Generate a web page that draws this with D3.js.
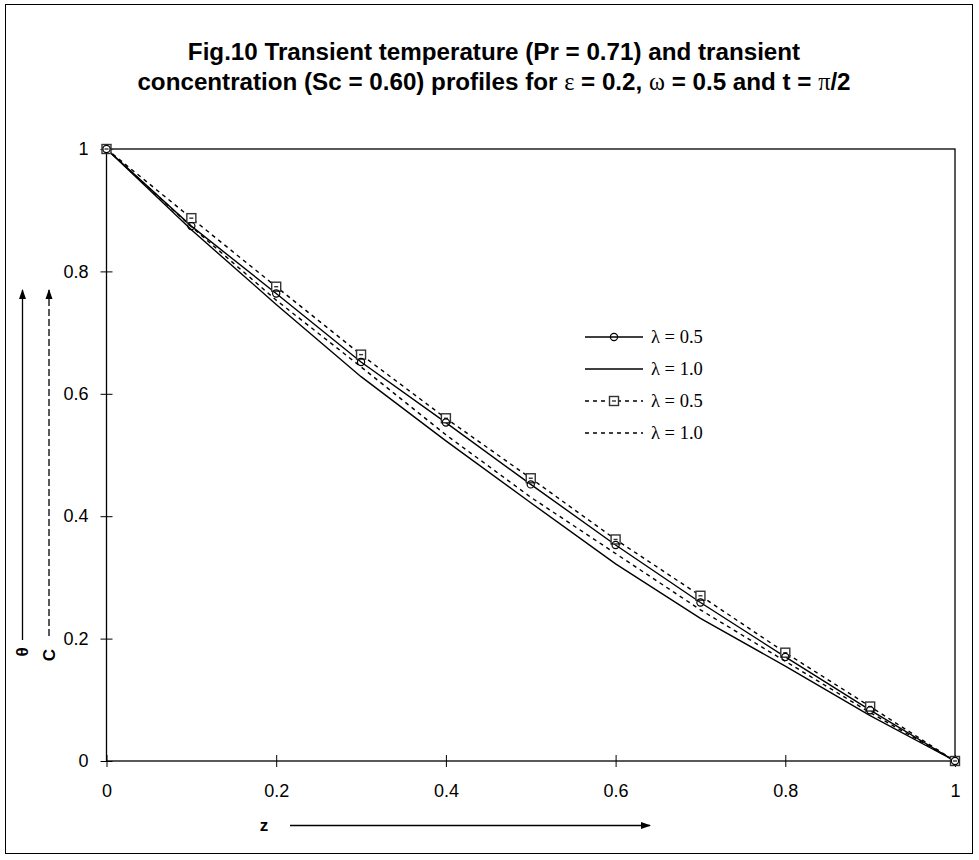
<!DOCTYPE html>
<html>
<head>
<meta charset="utf-8">
<script src="https://cdn.jsdelivr.net/npm/d3@7"></script>
<style>
  body { margin: 0; background: #fff; }
  svg { display: block; }
  .tick text { font-family: "Liberation Sans", Arial, sans-serif; font-size: 18px; fill: #000; }
</style>
</head>
<body>
<div id="chart"></div>
<script>
// data
var zVals = [0, 0.1, 0.2, 0.3, 0.4, 0.5, 0.6, 0.7, 0.8, 0.9, 1];
var thetaL05 = [1, 0.874, 0.764, 0.652, 0.553, 0.452, 0.353, 0.259, 0.170, 0.083, 0];
var thetaL10 = [1, 0.868, 0.746, 0.628, 0.523, 0.422, 0.322, 0.233, 0.155, 0.074, 0];
var concL05 = [1, 0.887, 0.775, 0.664, 0.560, 0.462, 0.362, 0.270, 0.177, 0.089, 0];
var concL10 = [1, 0.873, 0.753, 0.644, 0.533, 0.431, 0.339, 0.247, 0.163, 0.079, 0];
var tickVals = [0, 0.2, 0.4, 0.6, 0.8, 1];
var legendLabels = ["\u03bb = 0.5", "\u03bb = 1.0", "\u03bb = 0.5", "\u03bb = 1.0"];

var w_width = 979, w_height = 860;

var svg = d3.select('#chart').append('svg')
  .attr('width', w_width)
  .attr('height', w_height)

// outer frame
svg.append('rect').attr('x', 5.5).attr('y', 4.5).attr('width', 967).attr('height', 849)
  .attr('fill', 'none').attr('stroke', '#000').attr('stroke-width', 1)

var x = d3.scaleLinear().domain([0, 1]).range([106.5, 955])
var y = d3.scaleLinear().domain([0, 1]).range([761, 149])

// plot box
svg.append('rect').attr('x', x(0)).attr('y', y(1))
  .attr('width', x(1) - x(0)).attr('height', y(0) - y(1))
  .attr('fill', 'none').attr('stroke', '#000').attr('stroke-width', 1.3)

var fmt = function(d) { return d3.format('~g')(d) }

var xAxis = svg.append('g').attr('transform', 'translate(0,' + y(0) + ')')
  .call(d3.axisBottom(x).tickValues(tickVals).tickFormat(fmt).tickSize(6).tickPadding(17))
xAxis.select('.domain').remove()
xAxis.selectAll('.tick line').attr('y1', -6).attr('y2', 6)

var yAxis = svg.append('g').attr('transform', 'translate(' + x(0) + ',0)')
  .call(d3.axisLeft(y).tickValues(tickVals).tickFormat(fmt).tickSize(6).tickPadding(12))
yAxis.select('.domain').remove()
yAxis.selectAll('.tick line').attr('x1', -6).attr('x2', 6)

// series
var series = [
  {vals: thetaL05, dash: null, marker: 'circle'},
  {vals: thetaL10, dash: null, marker: null},
  {vals: concL05, dash: '4,4', marker: 'square'},
  {vals: concL10, dash: '4,4', marker: null}
]

var line = d3.line().x(function(d) { return x(d[0]) }).y(function(d) { return y(d[1]) })

series.forEach(function(s) {
  var pts = zVals.map(function(z, i) { return [z, s.vals[i]] })
  svg.append('path').datum(pts)
    .attr('d', line)
    .attr('fill', 'none')
    .attr('stroke', '#000')
    .attr('stroke-width', 1.4)
    .style('stroke-dasharray', s.dash)
})

function drawMarker(g, type, cx, cy) {
  if (type == 'circle') {
    g.append('circle').attr('cx', cx).attr('cy', cy).attr('r', 3.6)
      .attr('fill', 'none').attr('stroke', '#000').attr('stroke-width', 1.2)
  }
  if (type == 'square') {
    g.append('rect').attr('x', cx - 4.5).attr('y', cy - 4.5).attr('width', 9).attr('height', 9)
      .attr('fill', '#fff').attr('stroke', '#333').attr('stroke-width', 1.4)
    g.append('line').attr('x1', cx - 2).attr('x2', cx + 2).attr('y1', cy).attr('y2', cy)
      .attr('stroke', '#333').attr('stroke-width', 1.4)
  }
}

// squares drawn first, circles on top (as in the figure)
var markG = svg.append('g')
zVals.forEach(function(z, i) { drawMarker(markG, 'square', x(z), y(concL05[i])) })
zVals.forEach(function(z, i) { drawMarker(markG, 'circle', x(z), y(thetaL05[i])) })

// legend
var legend = svg.append('g')
series.forEach(function(s, i) {
  var ly = 337 + i * 32
  legend.append('line').attr('x1', 585).attr('x2', 643).attr('y1', ly).attr('y2', ly)
    .attr('stroke', '#000').attr('stroke-width', 1.4).style('stroke-dasharray', s.dash)
  if (s.marker) drawMarker(legend, s.marker, 614, ly)
  legend.append('text').attr('x', 651).attr('y', ly + 6)
    .attr('font-family', '"Liberation Serif", "Times New Roman", serif')
    .attr('font-size', 18.5).text(legendLabels[i])
})

// title
var title = svg.append('text').attr('text-anchor', 'middle')
  .attr('font-family', '"Liberation Sans", Arial, sans-serif')
  .attr('font-weight', 'bold').attr('font-size', 24.2)
title.append('tspan').attr('x', 494).attr('y', 60)
  .text('Fig.10 Transient temperature (Pr = 0.71) and transient')
var t2 = title.append('tspan').attr('x', 494).attr('y', 90)
t2.append('tspan').text('concentration (Sc = 0.60) profiles for ')
t2.append('tspan').attr('font-family', '"Liberation Serif", serif').attr('font-weight', 'normal').text('\u03b5')
t2.append('tspan').text(' = 0.2, ')
t2.append('tspan').attr('font-family', '"Liberation Serif", serif').attr('font-weight', 'normal').text('\u03c9')
t2.append('tspan').text(' = 0.5 and t = ')
t2.append('tspan').attr('font-family', '"Liberation Serif", serif').attr('font-weight', 'normal').text('\u03c0')
t2.append('tspan').text('/2')

// arrow heads
var defs = svg.append('defs')
defs.append('marker').attr('id', 'arrow').attr('viewBox', '0 0 10 10')
  .attr('refX', 9).attr('refY', 5).attr('markerWidth', 10).attr('markerHeight', 10)
  .attr('markerUnits', 'userSpaceOnUse').attr('orient', 'auto')
  .append('path').attr('d', 'M0,1.5 L10,5 L0,8.5 Z').attr('fill', '#000')

// y axis titles: theta (solid arrow) and C (dashed arrow)
svg.append('line').attr('x1', 22.5).attr('x2', 22.5).attr('y1', 640).attr('y2', 290)
  .attr('stroke', '#000').attr('stroke-width', 1.3).attr('marker-end', 'url(#arrow)')
svg.append('line').attr('x1', 49).attr('x2', 49).attr('y1', 636).attr('y2', 290)
  .attr('stroke', '#000').attr('stroke-width', 1.3).style('stroke-dasharray', '7,3')
  .attr('marker-end', 'url(#arrow)')
svg.append('text').attr('transform', 'translate(28,652) rotate(-90)')
  .attr('text-anchor', 'middle').attr('font-family', '"Liberation Sans", Arial, sans-serif')
  .attr('font-weight', 'bold').attr('font-size', 17).text('\u03b8')
svg.append('text').attr('transform', 'translate(55,655) rotate(-90)')
  .attr('text-anchor', 'middle').attr('font-family', '"Liberation Sans", Arial, sans-serif')
  .attr('font-weight', 'bold').attr('font-size', 17).text('C')

// x axis title with arrow
svg.append('text').attr('x', 264).attr('y', 831).attr('text-anchor', 'middle')
  .attr('font-family', '"Liberation Sans", Arial, sans-serif')
  .attr('font-weight', 'bold').attr('font-size', 17).text('z')
svg.append('line').attr('x1', 290).attr('x2', 650).attr('y1', 825.5).attr('y2', 825.5)
  .attr('stroke', '#000').attr('stroke-width', 1.3).attr('marker-end', 'url(#arrow)')
</script>
</body>
</html>
